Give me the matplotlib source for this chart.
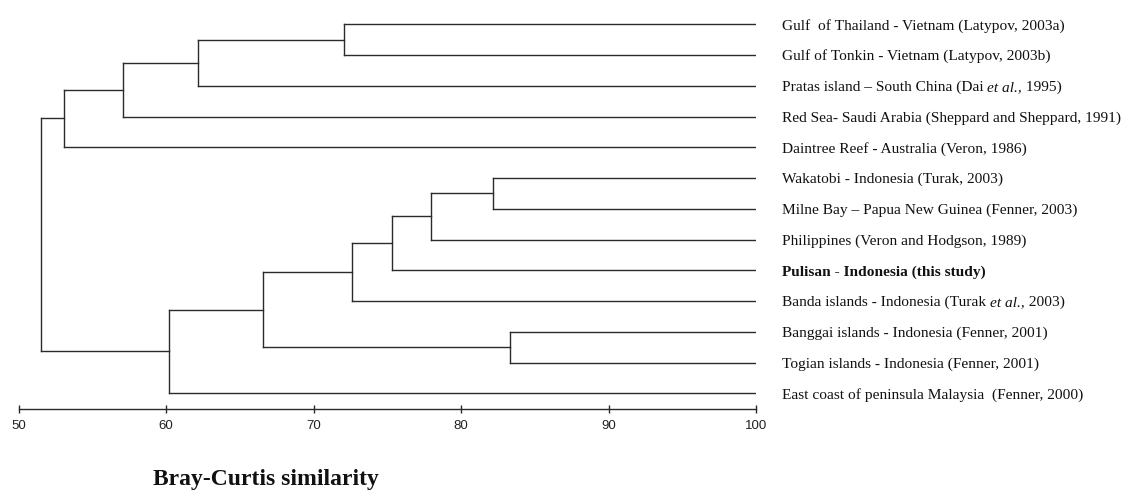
import matplotlib
matplotlib.use('Agg')
import matplotlib.pyplot as plt
from matplotlib.transforms import offset_copy

# leaves, top to bottom; each label is a list of (text, style) pieces
site_labels = [
    [('Gulf  of Thailand - Vietnam (Latypov, 2003a)', 'normal')],
    [('Gulf of Tonkin - Vietnam (Latypov, 2003b)', 'normal')],
    [('Pratas island – South China (Dai ', 'normal'), ('et al.,', 'italic'), (' 1995)', 'normal')],
    [('Red Sea- Saudi Arabia (Sheppard and Sheppard, 1991)', 'normal')],
    [('Daintree Reef - Australia (Veron, 1986)', 'normal')],
    [('Wakatobi - Indonesia (Turak, 2003)', 'normal')],
    [('Milne Bay – Papua New Guinea (Fenner, 2003)', 'normal')],
    [('Philippines (Veron and Hodgson, 1989)', 'normal')],
    [('Pulisan - Indonesia (this study)', 'bold')],
    [('Banda islands - Indonesia (Turak ', 'normal'), ('et al.,', 'italic'), (' 2003)', 'normal')],
    [('Banggai islands - Indonesia (Fenner, 2001)', 'normal')],
    [('Togian islands - Indonesia (Fenner, 2001)', 'normal')],
    [('East coast of peninsula Malaysia  (Fenner, 2000)', 'normal')],
]

# merges: node ids 0..12 are leaves, new nodes get 13, 14, ...
merge_left = [0, 13, 14, 15, 5, 17, 18, 19, 10, 20, 22, 16]
merge_right = [1, 2, 3, 4, 6, 7, 8, 9, 11, 21, 12, 23]
merge_similarity = [72.05, 62.2, 57.1, 53.06, 82.2, 77.97, 75.34, 72.63,
                    83.34, 66.58, 60.2, 51.5]

n = len(site_labels)
ypos = {i: float(i) for i in range(n)}
height = {i: 100.0 for i in range(n)}
for k, (a, b, s) in enumerate(zip(merge_left, merge_right, merge_similarity)):
    node = n + k
    ypos[node] = (ypos[a] + ypos[b]) / 2
    height[node] = s

fig = plt.figure(figsize=(11.29, 4.91), dpi=100)
ax = fig.add_axes([18.5 / 1129, 82 / 491, 737.5 / 1129, 409 / 491])

lc = '#2b2b2b'
for k, (a, b, s) in enumerate(zip(merge_left, merge_right, merge_similarity)):
    ax.plot([s, s], [ypos[a], ypos[b]], color=lc, lw=1.0)
    for c in (a, b):
        ax.plot([s, height[c]], [ypos[c], ypos[c]], color=lc, lw=1.0)

ax.set_xlim(50, 100)
ax.set_ylim((409 - 24.3) / 30.75, -24.3 / 30.75)

renderer = fig.canvas.get_renderer()
fs = 11.1
for i, pieces in enumerate(site_labels):
    dx = 0.0
    for txt, style in pieces:
        tr = offset_copy(ax.transData, fig=fig, x=dx, y=0, units='dots')
        t = ax.text(101.75, i + 0.17, txt, transform=tr, fontsize=fs,
                    family='Liberation Serif', color='#111111',
                    fontweight='bold' if style == 'bold' else 'normal',
                    fontstyle='italic' if style == 'italic' else 'normal',
                    va='baseline', ha='left', clip_on=False)
        dx += t.get_window_extent(renderer).width

ax.set_xticks([50, 60, 70, 80, 90, 100])
ax.tick_params(axis='x', direction='inout', length=6, width=1, colors=lc,
               labelsize=9.5, labelcolor='#222222', pad=5)
ax.set_yticks([])
for side in ('top', 'right', 'left'):
    ax.spines[side].set_visible(False)
ax.spines['bottom'].set_color(lc)
ax.spines['bottom'].set_linewidth(1.0)
for t in ax.get_xticklabels():
    t.set_family('Liberation Sans')

fig.text(266 / 1129, 1 - 479 / 491, 'Bray-Curtis similarity', fontsize=17,
         fontweight='bold', family='Liberation Serif', ha='center', va='center',
         color='#111111')

fig.savefig('out.png', dpi=100)
